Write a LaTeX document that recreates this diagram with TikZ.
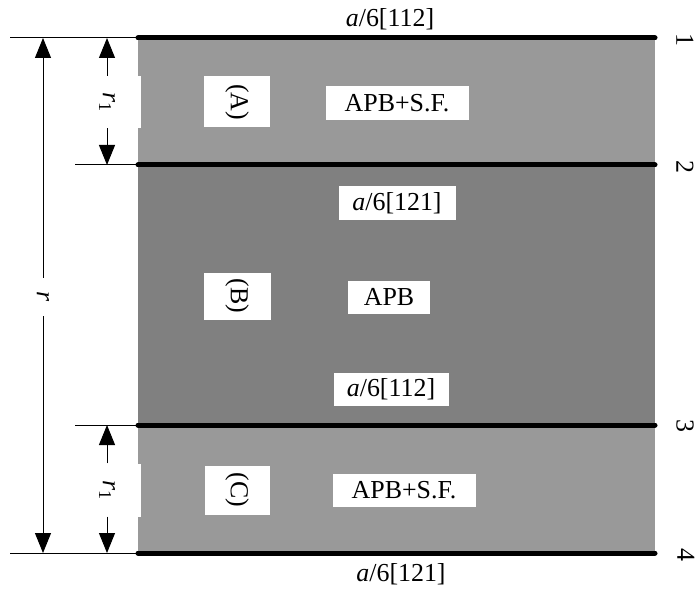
\documentclass[tikz,border=0pt]{standalone}
\usepackage{fontspec}
\setmainfont{Liberation Serif}
\usetikzlibrary{arrows.meta}
\definecolor{layerlight}{gray}{0.6}
\definecolor{layerdark}{gray}{0.5}
\begin{document}
\begin{tikzpicture}[x=1bp,y=-1bp,
  font=\fontsize{26}{30}\selectfont,
  tag/.style={fill=white, inner sep=0pt},
  sidetag/.style={tag, rotate=-90},
  number/.style={rotate=-90, inner sep=0pt},
  interface/.style={line width=5bp, line cap=round},
  guide/.style={line width=1bp},
  dim/.style={line width=1bp, -{Triangle[width=16bp,length=20bp]}}]
\useasboundingbox (0,0) rectangle (697,591);

% layers
\fill[layerlight] (138,38) rectangle (655,165);
\fill[layerdark]  (138,165) rectangle (655,425);
\fill[layerlight] (138,425) rectangle (655,553);

% interface end points
\coordinate (i1L) at (138,38);  \coordinate (i1R) at (655,38);
\coordinate (i2L) at (138,165); \coordinate (i2R) at (655,165);
\coordinate (i3L) at (138,425); \coordinate (i3R) at (655,425);
\coordinate (i4L) at (138,553); \coordinate (i4R) at (655,553);

% extension lines
\coordinate (g1) at (10,38);
\coordinate (g2) at (75,165);
\coordinate (g3) at (75,425);
\coordinate (g4) at (10,553);
\draw[guide] (g1) -- (i1L);
\draw[guide] (g2) -- (i2L);
\draw[guide] (g3) -- (i3L);
\draw[guide] (g4) -- (i4L);

% interfaces
\draw[interface] (i1L) -- (i1R);
\draw[interface] (i2L) -- (i2R);
\draw[interface] (i3L) -- (i3R);
\draw[interface] (i4L) -- (i4R);

% dimension targets
\coordinate (rT) at (43,38);   \coordinate (rB) at (43,553);
\coordinate (aT) at (107,38);  \coordinate (aB) at (107,165);
\coordinate (cT) at (107,425); \coordinate (cB) at (107,553);

% dimension labels
\node[sidetag, minimum width=38bp, minimum height=30bp] (rlab) at (43,297) {\textit{r}};
\node[sidetag, minimum width=52bp, minimum height=68bp] (r1a) at (107,102) {\textit{r}\textsubscript{1}};
\node[sidetag, minimum width=53bp, minimum height=68bp] (r1c) at (107,490) {\textit{r}\textsubscript{1}};

% dimension arrows
\draw[dim] (rlab) -- (rT);
\draw[dim] (rlab) -- (rB);
\draw[dim] (r1a) -- (aT);
\draw[dim] (r1a) -- (aB);
\draw[dim] (r1c) -- (cT);
\draw[dim] (r1c) -- (cB);

% layer names
\node[sidetag, minimum width=51bp, minimum height=66bp] (A) at (237,102) {(A)};
\node[sidetag, minimum width=47bp, minimum height=67bp] (B) at (237,296) {(B)};
\node[sidetag, minimum width=49bp, minimum height=65bp] (C) at (237,490) {(C)};

% layer contents
\node[tag, minimum width=143bp, minimum height=34bp] (sfA) at (397,103) {APB+S.F.};
\node[tag, minimum width=117bp, minimum height=33bp] (b121) at (397,203) {\textit{a}/6[121]};
\node[tag, minimum width=82bp, minimum height=33bp] (apb) at (389,297) {APB};
\node[tag, minimum width=115bp, minimum height=33bp] (b112) at (391,389) {\textit{a}/6[112]};
\node[tag, minimum width=143bp, minimum height=33bp] (sfC) at (404,490) {APB+S.F.};

% outer Burgers vectors
\node (topvec) at (390,19) {\textit{a}/6[112]};
\node (botvec) at (401,574) {\textit{a}/6[121]};

% interface numbers
\node[number] (n1) at (685,40) {1};
\node[number] (n2) at (685,167) {2};
\node[number] (n3) at (685,426) {3};
\node[number] (n4) at (686,555) {4};
\end{tikzpicture}
\end{document}
